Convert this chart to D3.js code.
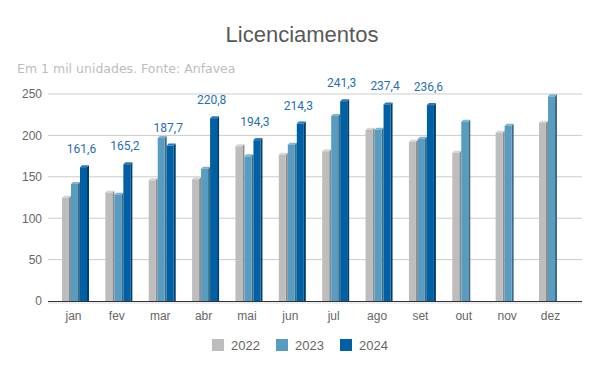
<!DOCTYPE html>
<html>
<head>
<meta charset="utf-8">
<script src="https://cdn.jsdelivr.net/npm/d3@7"></script>
<style>
  body { margin: 0; background: #fff; }
  svg { display: block; }
</style>
</head>
<body>
<svg id="chart" width="600" height="371"></svg>
<script>
// data (mil unidades)
const months = ["jan", "fev", "mar", "abr", "mai", "jun", "jul", "ago", "set", "out", "nov", "dez"];
const series = ["2022", "2023", "2024"];
const v2022 = [124.8, 130.8, 145.7, 147.0, 186.8, 176.7, 180.8, 206.9, 192.4, 179.1, 203.3, 215.4];
const v2023 = [141.3, 128.4, 196.9, 159.8, 174.7, 188.8, 223.4, 206.9, 196.0, 216.6, 211.8, 247.2];
const v2024 = [161.6, 165.2, 187.7, 220.8, 194.3, 214.3, 241.3, 237.4, 236.6, null, null, null];
const yTicks = [0, 50, 100, 150, 200, 250];

const colors = {
  "2022": { front: "#bdbdbd", side: "#8c8c8c", top: "#d6d6d6" },
  "2023": { front: "#589dc1", side: "#3b6c85", top: "#7fb5d1" },
  "2024": { front: "#0060a6", side: "#003e6e", top: "#2a7bbb" }
};

const values = { "2022": v2022, "2023": v2023, "2024": v2024 };
const rows = [];
series.forEach(s => {
  values[s].forEach((v, i) => {
    if (v != null) rows.push({ month: months[i], year: s, value: v });
  });
});

const svg = d3.select("#chart");
const depth = 2;

const x0 = d3.scaleBand().domain(months).range([52.8, 573.2]);
const x1 = d3.scaleBand().domain(series).range([-12.5, 14.5]);
const y = d3.scaleLinear().domain([0, 250]).range([301, 94]);

const comma = d3.formatLocale({ decimal: ",", thousands: ".", grouping: [3], currency: ["R$", ""] }).format(".1f");

// title + subtitle
svg.append("text")
  .attr("x", 302).attr("y", 42)
  .attr("text-anchor", "middle")
  .style("font-family", "'Liberation Sans', Arial, sans-serif")
  .style("font-size", "22px")
  .style("fill", "#595959")
  .text("Licenciamentos");

svg.append("text")
  .attr("x", 17).attr("y", 73)
  .style("font-family", "'DejaVu Sans', Verdana, sans-serif")
  .style("font-size", "12.5px")
  .style("fill", "#bdbdbd")
  .text("Em 1 mil unidades. Fonte: Anfavea");

// grid
const grid = svg.append("g");
grid.selectAll("line")
  .data(yTicks.filter(t => t > 0))
  .join("line")
  .attr("x1", 48).attr("x2", 582)
  .attr("y1", d => y(d)).attr("y2", d => y(d))
  .attr("stroke", "#cccccc").attr("stroke-width", 1);

// floor strip
svg.append("rect")
  .attr("x", 48).attr("y", y(0)).attr("width", 534).attr("height", 3)
  .attr("fill", "#eeeeee");

// y axis labels
const yAxis = svg.append("g")
  .attr("transform", "translate(42,0)")
  .call(d3.axisLeft(y).tickValues(yTicks).tickSize(0).tickPadding(0));
yAxis.select(".domain").remove();
yAxis.selectAll("text")
  .style("font-family", "'Liberation Sans', Arial, sans-serif")
  .style("font-size", "12px")
  .style("fill", "#666");

// bars
const bars = svg.append("g").selectAll("g")
  .data(rows)
  .join("g")
  .attr("transform", d => `translate(${x0(d.month) + x0.bandwidth() / 2 + x1(d.year)},0)`);

const w = x1.bandwidth() - depth;

bars.append("polygon")
  .attr("points", d => {
    const t = y(d.value), b = y(0);
    return `${w},${t} ${w + depth},${t - depth} ${w + depth},${b} ${w},${b}`;
  })
  .attr("fill", d => colors[d.year].side);

bars.append("polygon")
  .attr("points", d => {
    const t = y(d.value);
    return `0,${t} ${depth},${t - depth} ${w + depth},${t - depth} ${w},${t}`;
  })
  .attr("fill", d => colors[d.year].top);

bars.append("rect")
  .attr("x", 0)
  .attr("y", d => y(d.value))
  .attr("width", w)
  .attr("height", d => y(0) - y(d.value))
  .attr("fill", d => colors[d.year].front);

// baseline
svg.append("line")
  .attr("x1", 48).attr("x2", 582)
  .attr("y1", y(0) + 0.5).attr("y2", y(0) + 0.5)
  .attr("stroke", "#333").attr("stroke-width", 1);

// data labels for 2024
svg.append("g").selectAll("text")
  .data(rows.filter(d => d.year === "2024"))
  .join("text")
  .attr("x", d => x0(d.month) + x0.bandwidth() / 2 + x1(d.year) + w / 2 - 2)
  .attr("y", d => y(d.value) - 14)
  .attr("text-anchor", "middle")
  .style("font-family", "Roboto, sans-serif")
  .style("font-size", "12px")
  .style("fill", "#1f6fb6")
  .text(d => comma(d.value));

// x axis labels
const xAxis = svg.append("g")
  .attr("transform", `translate(-1,${y(0) + 10})`)
  .call(d3.axisBottom(x0).tickSize(0).tickPadding(0));
xAxis.select(".domain").remove();
xAxis.selectAll("text")
  .attr("dy", "0.71em")
  .style("font-family", "'Liberation Sans', Arial, sans-serif")
  .style("font-size", "12px")
  .style("fill", "#666");

// legend
const legend = svg.append("g").selectAll("g")
  .data(series)
  .join("g")
  .attr("transform", (d, i) => `translate(${212 + i * 64},339)`);
legend.append("rect")
  .attr("width", 12).attr("height", 12)
  .attr("fill", d => colors[d].front);
legend.append("text")
  .attr("x", 19).attr("y", 11)
  .style("font-family", "'Liberation Sans', Arial, sans-serif")
  .style("font-size", "13px")
  .style("fill", "#666")
  .text(d => d);
</script>
</body>
</html>
